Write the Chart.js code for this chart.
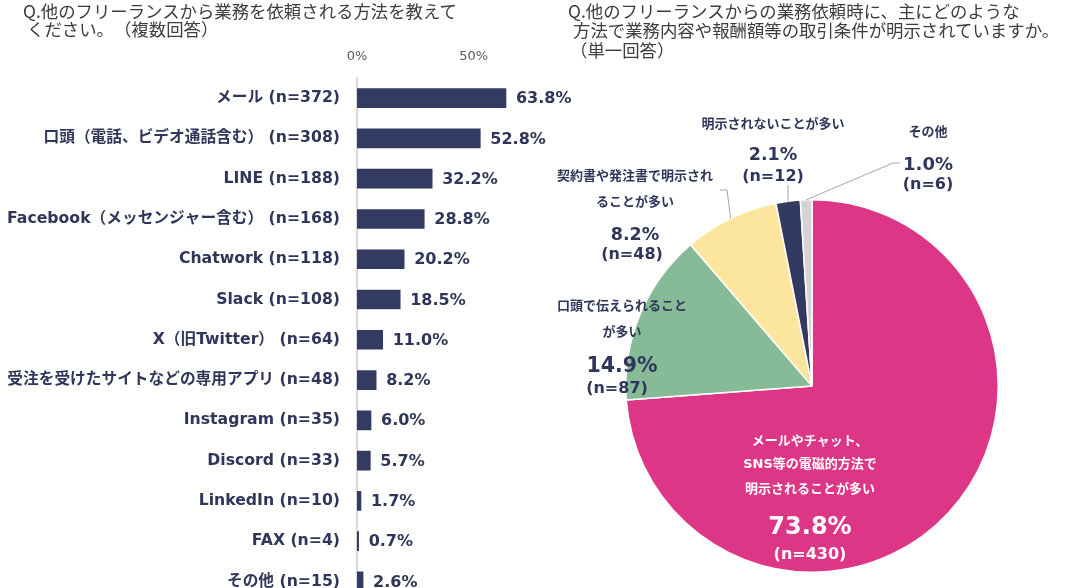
<!DOCTYPE html>
<html lang="ja">
<head>
<meta charset="utf-8">
<title>フリーランス間の業務依頼</title>
<script src="https://cdn.jsdelivr.net/npm/chart.js@4.4.1/dist/chart.umd.min.js"></script>
<style>
  html, body { margin: 0; padding: 0; width: 1069px; height: 588px; overflow: hidden; background: #fff; }
  canvas { position: absolute; left: 0; top: 0; }
  .title { position: absolute; font-family: 'Noto Sans CJK JP', sans-serif; font-size: 17.4px; line-height: 20px;
    color: #3d3d3d; white-space: nowrap; text-spacing-trim: space-all; }
</style>
</head>
<body>
<canvas id="barChart" width="600" height="628"></canvas>
<canvas id="pieChart" width="1069" height="588"></canvas>

<div class="title" style="left:23px; top:1px;">Q.他のフリーランスから業務を依頼される方法を教えて</div>
<div class="title" style="left:27px; top:19px;">ください。（複数回答）</div>
<div class="title" style="left:568px; top:1px;">Q.他のフリーランスからの業務依頼時に、主にどのような</div>
<div class="title" style="left:573px; top:20px;">方法で業務内容や報酬額等の取引条件が明示されていますか。</div>
<div class="title" style="left:570px; top:40px;">（単一回答）</div>

<script>
const FONT = "'DejaVu Sans', 'Noto Sans CJK JP', sans-serif";
const NAVY = '#2f3659';

// 左: 業務を依頼される方法（複数回答）
const methodLabels = ['メール', '口頭（電話、ビデオ通話含む）', 'LINE', 'Facebook（メッセンジャー含む）',
  'Chatwork', 'Slack', 'X（旧Twitter）', '受注を受けたサイトなどの専用アプリ',
  'Instagram', 'Discord', 'LinkedIn', 'FAX', 'その他'];
const methodCounts = [372, 308, 188, 168, 118, 108, 64, 48, 35, 33, 10, 4, 15];
const methodShares = [63.8, 52.8, 32.2, 28.8, 20.2, 18.5, 11.0, 8.2, 6.0, 5.7, 1.7, 0.7, 2.6];
const axisTicks = [0, 50];

// 右: 取引条件の明示方法（単一回答）
const termLabels = ['メールやチャット、\nSNS等の電磁的方法で\n明示されることが多い', '口頭で伝えられること\nが多い',
  '契約書や発注書で明示され\nることが多い', '明示されないことが多い', 'その他'];
const termShares = [73.8, 14.9, 8.2, 2.1, 1.0];
const termCounts = [430, 87, 48, 12, 6];
const termColors = ['#dd3686', '#87ba97', '#fce59c', '#323a61', '#d4d4d4'];

Chart.defaults.font.family = FONT;

// 棒の右に％を書く
const barValueLabels = {
  id: 'barValueLabels',
  afterDatasetsDraw(chart) {
    const ctx = chart.ctx;
    const meta = chart.getDatasetMeta(0);
    ctx.save();
    ctx.font = 'bold 16px ' + FONT;
    ctx.fillStyle = NAVY;
    ctx.textAlign = 'left';
    ctx.textBaseline = 'middle';
    meta.data.forEach((bar, i) => {
      ctx.fillText(methodShares[i].toFixed(1) + '%', bar.x + 10, bar.y + 1);
    });
    ctx.restore();
  }
};

new Chart(document.getElementById('barChart'), {
  type: 'bar',
  data: {
    labels: methodLabels.map((l, i) => `${l} (n=${methodCounts[i]})`),
    datasets: [{ data: methodShares, backgroundColor: '#333b62', barThickness: 19 }]
  },
  options: {
    indexAxis: 'y',
    responsive: false,
    animation: false,
    layout: { padding: { right: 9.5 } },
    plugins: { legend: { display: false }, tooltip: { enabled: false } },
    scales: {
      x: {
        position: 'top', min: 0, max: 100,
        grid: { display: false, drawTicks: false },
        border: { display: false },
        ticks: {
          stepSize: 50, padding: 14, color: '#595959', font: { size: 13 },
          callback: v => axisTicks.includes(v) ? v + '%' : null
        },
        afterFit: a => { a.height = 78; }
      },
      y: {
        grid: { display: false, drawTicks: false },
        border: { display: true, color: '#d9d9d9', width: 2 },
        ticks: { padding: 17, color: NAVY, font: { size: 15.7, weight: 'bold' } },
        afterFit: a => { a.width = 357; }
      }
    }
  },
  plugins: [barValueLabels]
});

// 円グラフのラベル配置（行の中心）
const pieNotes = [
  { x: 810, lines: [442, 465, 490], pctY: 528, pctSize: 24, nY: 555, color: '#fff' },
  { x: 622, lines: [307, 333], pctY: 367, pctSize: 20.5, nX: 617, nY: 389, color: NAVY },
  { x: 635, lines: [177, 203], pctY: 235, pctSize: 17.5, nX: 632, nY: 255, color: NAVY, leader: [[727, 190], [720, 190]] },
  { x: 773, lines: [125], pctY: 155, pctSize: 17.5, nY: 177, color: NAVY, leader: [[788, 185]] },
  { x: 928, lines: [133], pctY: 165, pctSize: 18, nY: 185, color: NAVY, leader: [[893, 163], [900, 163]] }
];

const pieLabels = {
  id: 'pieLabels',
  afterDatasetsDraw(chart) {
    const ctx = chart.ctx;
    const meta = chart.getDatasetMeta(0);
    ctx.save();
    ctx.textAlign = 'center';
    ctx.textBaseline = 'middle';
    meta.data.forEach((arc, i) => {
      const note = pieNotes[i];
      if (note.leader) {
        const p = arc.getProps(['x', 'y', 'startAngle', 'endAngle', 'outerRadius'], true);
        const mid = (p.startAngle + p.endAngle) / 2;
        ctx.beginPath();
        ctx.moveTo(p.x + Math.cos(mid) * p.outerRadius, p.y + Math.sin(mid) * p.outerRadius);
        note.leader.forEach(pt => ctx.lineTo(pt[0], pt[1]));
        ctx.strokeStyle = '#a6a6a6';
        ctx.lineWidth = 1;
        ctx.stroke();
      }
      ctx.fillStyle = note.color;
      ctx.font = 'bold 13px ' + FONT;
      termLabels[i].split('\n').forEach((line, k) => ctx.fillText(line, note.x, note.lines[k]));
      ctx.font = `bold ${note.pctSize}px ${FONT}`;
      ctx.fillText(termShares[i].toFixed(1) + '%', note.x, note.pctY);
      ctx.font = 'bold 16px ' + FONT;
      ctx.fillText(`(n=${termCounts[i]})`, note.nX || note.x, note.nY);
    });
    ctx.restore();
  }
};

new Chart(document.getElementById('pieChart'), {
  type: 'pie',
  data: {
    labels: termLabels,
    datasets: [{ data: termShares, backgroundColor: termColors, borderColor: '#fff', borderWidth: 1.5 }]
  },
  options: {
    responsive: false,
    animation: false,
    layout: { padding: { left: 625, right: 70, top: 199, bottom: 15 } },
    plugins: { legend: { display: false }, tooltip: { enabled: false } }
  },
  plugins: [pieLabels]
});
</script>
</body>
</html>
